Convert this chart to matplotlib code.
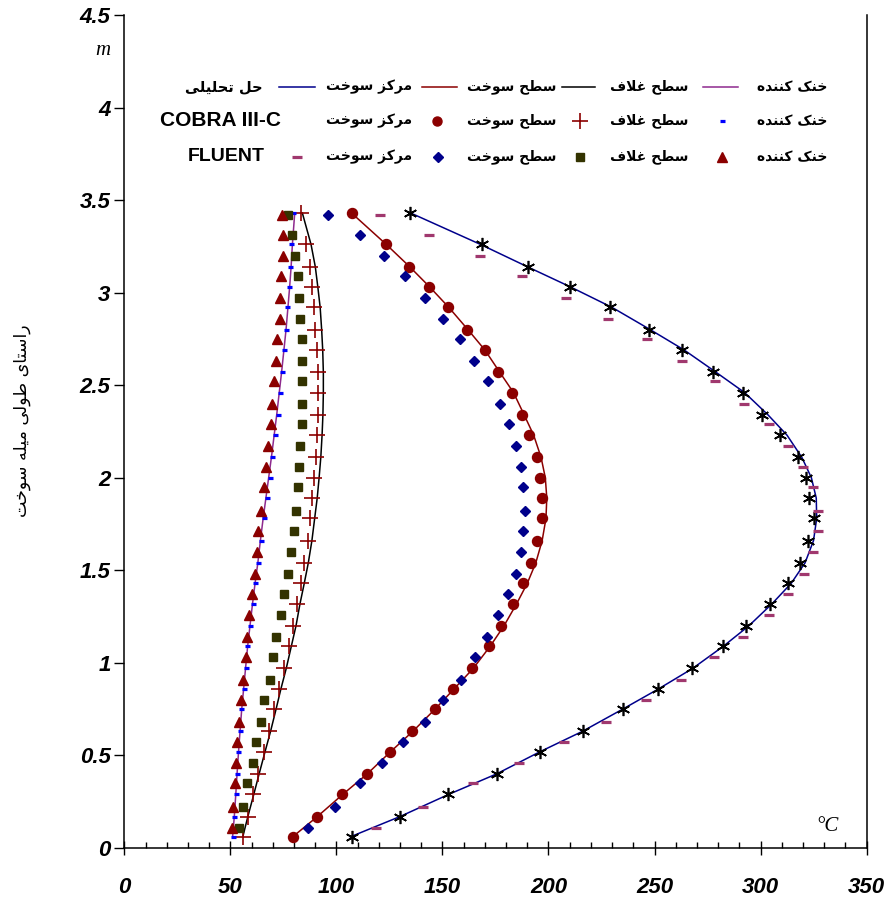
import matplotlib
matplotlib.use('Agg')
import matplotlib.pyplot as plt
from matplotlib.ticker import MultipleLocator, FuncFormatter

plt.rcParams['font.family'] = ['Liberation Sans', 'DejaVu Sans']

# heights of the COBRA nodes and of the FLUENT nodes (m)
z_cobra = [0.06, 0.17, 0.29, 0.40, 0.52, 0.63, 0.75, 0.86, 0.97, 1.09, 1.20, 1.32, 1.43, 1.54, 1.66,
           1.78, 1.89, 2.00, 2.11, 2.23, 2.34, 2.46, 2.57, 2.69, 2.80, 2.92, 3.03, 3.14, 3.26, 3.43]
z_fluent = [0.11, 0.22, 0.35, 0.46, 0.57, 0.68, 0.80, 0.91, 1.03, 1.14, 1.26, 1.37, 1.48, 1.60, 1.71,
            1.82, 1.95, 2.06, 2.17, 2.29, 2.40, 2.52, 2.63, 2.75, 2.86, 2.97, 3.09, 3.20, 3.31, 3.42]

# analytical solution (on COBRA heights)
ana_center = [106.5, 130.0, 153.0, 175.5, 196.0, 216.0, 235.0, 252.0, 268.0, 282.5, 294.5, 305.5, 314.5, 321.0, 325.0,
              326.5, 326.3, 324.0, 319.5, 312.5, 303.5, 292.5, 279.0, 264.0, 248.0, 230.0, 210.5, 190.0, 168.0, 135.0]
ana_surface = [79.3, 91.0, 103.0, 114.5, 125.5, 136.0, 146.5, 155.5, 164.5, 172.5, 179.0, 185.0, 190.0, 194.0, 197.0,
               198.8, 199.2, 198.5, 196.5, 193.0, 188.5, 183.5, 177.0, 170.0, 162.0, 153.0, 144.0, 134.5, 123.5, 107.1]
ana_clad = [55.8, 58.2, 61.0, 63.5, 66.3, 68.9, 71.5, 73.8, 76.3, 78.7, 80.9, 82.8, 84.8, 86.7, 88.4,
            89.7, 90.9, 91.8, 92.6, 93.2, 93.6, 93.8, 93.8, 93.5, 93.0, 92.3, 91.2, 90.0, 88.0, 83.9]
ana_coolant = [51.0, 51.8, 52.5, 53.1, 53.8, 54.5, 55.3, 56.2, 57.1, 58.1, 59.2, 60.4, 61.6, 62.9, 64.1,
               65.4, 66.7, 68.0, 69.3, 70.6, 71.8, 73.0, 74.1, 75.2, 76.2, 77.1, 77.9, 78.6, 79.2, 80.3]

# COBRA III-C
cobra_center = [107.3, 130.1, 152.8, 175.8, 196.0, 216.1, 235.3, 251.7, 267.8, 282.5, 293.2, 304.5, 313.2, 318.4, 322.6,
                325.0, 323.1, 321.4, 317.6, 309.4, 300.8, 291.7, 277.4, 262.9, 247.5, 228.8, 210.0, 190.2, 168.6, 134.9]
cobra_surface = [79.3, 90.9, 102.7, 114.5, 125.1, 135.6, 146.3, 155.0, 163.7, 171.9, 177.4, 183.3, 187.8, 191.9, 194.7,
                 196.8, 196.8, 196.0, 194.8, 190.9, 187.4, 182.9, 176.3, 169.9, 161.6, 152.7, 143.7, 134.3, 123.3, 107.1]
cobra_clad = [56.0, 58.1, 60.8, 63.1, 65.8, 68.2, 70.5, 72.8, 75.1, 77.6, 79.6, 81.2, 83.1, 84.8, 86.4,
              87.5, 88.6, 89.4, 90.2, 90.8, 91.2, 91.4, 91.3, 90.7, 89.9, 89.4, 88.3, 87.5, 85.5, 83.3]
cobra_coolant = [51.0, 51.8, 52.5, 53.1, 53.7, 54.3, 55.1, 56.2, 57.1, 57.9, 59.1, 60.4, 61.7, 63.2, 64.6,
                 65.9, 67.2, 68.5, 69.7, 71.0, 72.2, 73.4, 74.3, 75.3, 76.0, 76.8, 77.7, 78.0, 78.5, 79.6]

# FLUENT
fluent_center = [118.6, 140.9, 164.5, 186.2, 207.3, 227.1, 246.0, 262.5, 278.2, 291.9, 304.0, 313.1, 320.6, 324.9, 327.2,
                 327.2, 324.9, 320.0, 313.1, 303.9, 292.1, 278.4, 262.8, 246.6, 228.1, 208.1, 187.5, 167.6, 143.5, 120.5]
fluent_surface = [86.7, 99.2, 111.1, 121.5, 131.2, 141.7, 150.4, 158.7, 165.3, 170.8, 176.3, 180.7, 184.6, 186.9, 187.8,
                  188.9, 188.1, 187.0, 184.5, 181.5, 177.1, 171.6, 165.0, 158.4, 150.1, 141.6, 132.2, 122.3, 111.1, 96.1]
fluent_clad = [54.0, 56.0, 57.9, 60.5, 62.2, 64.2, 65.9, 68.6, 70.2, 71.5, 73.7, 75.4, 77.3, 78.5, 79.8,
               81.0, 81.7, 82.3, 82.9, 83.6, 83.6, 83.6, 83.6, 83.6, 82.9, 82.3, 81.7, 80.4, 79.2, 77.3]
fluent_coolant = [50.8, 51.3, 52.0, 52.6, 53.2, 53.9, 55.0, 55.9, 57.2, 57.9, 58.9, 60.1, 61.4, 62.5, 63.1,
                  64.5, 65.7, 66.7, 67.5, 69.1, 69.6, 70.7, 71.3, 72.1, 73.2, 73.3, 74.0, 74.6, 74.6, 74.4]

x_ticks = [0, 50, 100, 150, 200, 250, 300, 350]
y_ticks = [0, 0.5, 1, 1.5, 2, 2.5, 3, 3.5, 4, 4.5]

# persian text: matplotlib has no shaping, so join letters by hand and reverse
FORMS = {  # isolated, final, initial, medial
    'ا': ('\uFE8D', '\uFE8E', None, None),
    'د': ('\uFEA9', '\uFEAA', None, None),
    'ر': ('\uFEAD', '\uFEAE', None, None),
    'ز': ('\uFEAF', '\uFEB0', None, None),
    'و': ('\uFEED', '\uFEEE', None, None),
    'ت': ('\uFE95', '\uFE96', '\uFE97', '\uFE98'),
    'ح': ('\uFEA1', '\uFEA2', '\uFEA3', '\uFEA4'),
    'خ': ('\uFEA5', '\uFEA6', '\uFEA7', '\uFEA8'),
    'س': ('\uFEB1', '\uFEB2', '\uFEB3', '\uFEB4'),
    'ط': ('\uFEC1', '\uFEC2', '\uFEC3', '\uFEC4'),
    'غ': ('\uFECD', '\uFECE', '\uFECF', '\uFED0'),
    'ف': ('\uFED1', '\uFED2', '\uFED3', '\uFED4'),
    'ل': ('\uFEDD', '\uFEDE', '\uFEDF', '\uFEE0'),
    'م': ('\uFEE1', '\uFEE2', '\uFEE3', '\uFEE4'),
    'ن': ('\uFEE5', '\uFEE6', '\uFEE7', '\uFEE8'),
    'ه': ('\uFEE9', '\uFEEA', '\uFEEB', '\uFEEC'),
    'ک': ('\uFB8E', '\uFB8F', '\uFB90', '\uFB91'),
    'ی': ('\uFBFC', '\uFBFD', '\uFBFE', '\uFBFF'),
}


def fa(s):
    res = []
    i = 0
    n = len(s)
    while i < n:
        c = s[i]
        if c not in FORMS:
            res.append(c)
            i += 1
            continue
        prev = s[i - 1] if i > 0 else ' '
        conn_prev = prev in FORMS and FORMS[prev][2] is not None
        if c == 'ل' and i + 1 < n and s[i + 1] == 'ا':
            res.append('\uFEFC' if conn_prev else '\uFEFB')
            i += 2
            continue
        nxt = s[i + 1] if i + 1 < n else ' '
        conn_next = nxt in FORMS and FORMS[c][2] is not None
        f = FORMS[c]
        if conn_prev and conn_next:
            res.append(f[3])
        elif conn_prev:
            res.append(f[1])
        elif conn_next:
            res.append(f[2])
        else:
            res.append(f[0])
        i += 1
    return ''.join(reversed(res))


fig = plt.figure(figsize=(8.86, 9.0), dpi=100)
ax = fig.add_axes([0.1405, 0.0578, 0.8375, 0.9256])

red = '#8B0000'
navy = '#00008B'
purple = '#8E2A8E'
plum = '#A0386E'
olive = '#333300'

# analytical lines
ax.plot(ana_center, z_cobra, color=navy, lw=1.1, zorder=2)
ax.plot(ana_surface, z_cobra, color=red, lw=1.1, zorder=2)
ax.plot(ana_clad, z_cobra, color='black', lw=1.1, zorder=2)
ax.plot(ana_coolant, z_cobra, color=purple, lw=1.1, zorder=2)

# COBRA III-C
ax.plot(cobra_center, z_cobra, ls='none', marker=(6, 2, 0), ms=9.5, mew=1.2, color='black', zorder=3)
ax.plot(cobra_surface, z_cobra, ls='none', marker='o', ms=7.2, color=red, zorder=3)
ax.plot(cobra_clad, z_cobra, ls='none', marker='+', ms=11, mew=1.2, color=red, zorder=3)
ax.plot(cobra_coolant, z_cobra, ls='none', marker='_', ms=3.6, mew=2.3, color='#0000FF', zorder=3)

# FLUENT
ax.plot(fluent_center, z_fluent, ls='none', marker='_', ms=6.8, mew=2.3, color=plum, zorder=3)
ax.plot(fluent_surface, z_fluent, ls='none', marker='D', ms=5.2, color=navy, zorder=3)
ax.plot(fluent_clad, z_fluent, ls='none', marker='s', ms=5.8, color=olive, zorder=3)
ax.plot(fluent_coolant, z_fluent, ls='none', marker='^', ms=7.2, color=red, zorder=3)

ax.set_xlim(0, 350)
ax.set_ylim(0, 4.5)
ax.set_xticks(x_ticks)
ax.set_yticks(y_ticks)
ax.xaxis.set_minor_locator(MultipleLocator(10))
ax.yaxis.set_major_formatter(FuncFormatter(lambda v, p: ('%g' % v)))
ax.tick_params(axis='x', which='major', direction='inout', length=10, width=1, pad=16)
ax.tick_params(axis='x', which='minor', direction='in', length=4, width=1)
ax.tick_params(axis='y', which='major', direction='out', length=7, width=1, pad=3)
for lab in ax.get_xticklabels() + ax.get_yticklabels():
    lab.set_fontweight('bold')
    lab.set_fontstyle('italic')
    lab.set_fontsize(16)
ax.spines['top'].set_visible(False)
for s in ['left', 'right', 'bottom']:
    ax.spines[s].set_linewidth(1.1)

# units and axis title
fig.text(0.1163, 0.9444, 'm', fontfamily='Liberation Serif', fontstyle='italic', fontsize=15, ha='center', va='center')
ax.text(0.947, 0.026, '°C', transform=ax.transAxes, fontfamily='Liberation Serif', fontstyle='italic',
        fontsize=15, ha='center', va='center')
fig.text(0.025, 0.533, fa('راستای طولی میله سوخت'), rotation=90, fontfamily='DejaVu Sans',
         fontsize=12.5, ha='center', va='center')

# legend, laid out by hand
tr = ax.transAxes
row_y = [0.9136, 0.8727, 0.8295]
names = ['مرکز سوخت', 'سطح سوخت', 'سطح غلاف', 'خنک کننده']
name_x = [0.3295, 0.5223, 0.7069, 0.8996]
heads = ['حل تحلیلی', 'COBRA III-C', 'FLUENT']
for r, y in enumerate(row_y):
    for nx, nm in zip(name_x, names):
        ax.text(nx, y, fa(nm), transform=tr, fontfamily='DejaVu Sans', fontweight='bold',
                fontsize=10, ha='center', va='center')
    if r == 0:
        ax.text(0.1334, y, fa(heads[0]), transform=tr, fontfamily='DejaVu Sans', fontweight='bold',
                fontsize=10.5, ha='center', va='center')
    else:
        ax.text(0.1290 if r == 1 else 0.1375, y, heads[r], transform=tr, fontweight='bold',
                fontsize=15 if r == 1 else 14, ha='center', va='center')

seg = [(0.2082, 0.2567), (0.4009, 0.4481), (0.5896, 0.6341), (0.7796, 0.8268)]
for (a, b), c in zip(seg, [navy, red, 'black', purple]):
    ax.plot([a, b], [row_y[0], row_y[0]], transform=tr, color=c, lw=1.1, clip_on=False)
ax.plot([0.4212], [row_y[1]], transform=tr, marker='o', ms=6.5, color=red, ls='none')
ax.plot([0.6139], [row_y[1]], transform=tr, marker='+', ms=11, mew=1.2, color=red, ls='none')
ax.plot([0.8053], [row_y[1]], transform=tr, marker='_', ms=3.6, mew=2.3, color='#0000FF', ls='none')
ax.plot([0.2325], [row_y[2]], transform=tr, marker='_', ms=6.5, mew=2.3, color=plum, ls='none')
ax.plot([0.4225], [row_y[2]], transform=tr, marker='D', ms=5, color=navy, ls='none')
ax.plot([0.6139], [row_y[2]], transform=tr, marker='s', ms=5.5, color=olive, ls='none')
ax.plot([0.8053], [row_y[2]], transform=tr, marker='^', ms=7, color=red, ls='none')

fig.savefig('out.png', dpi=100)
